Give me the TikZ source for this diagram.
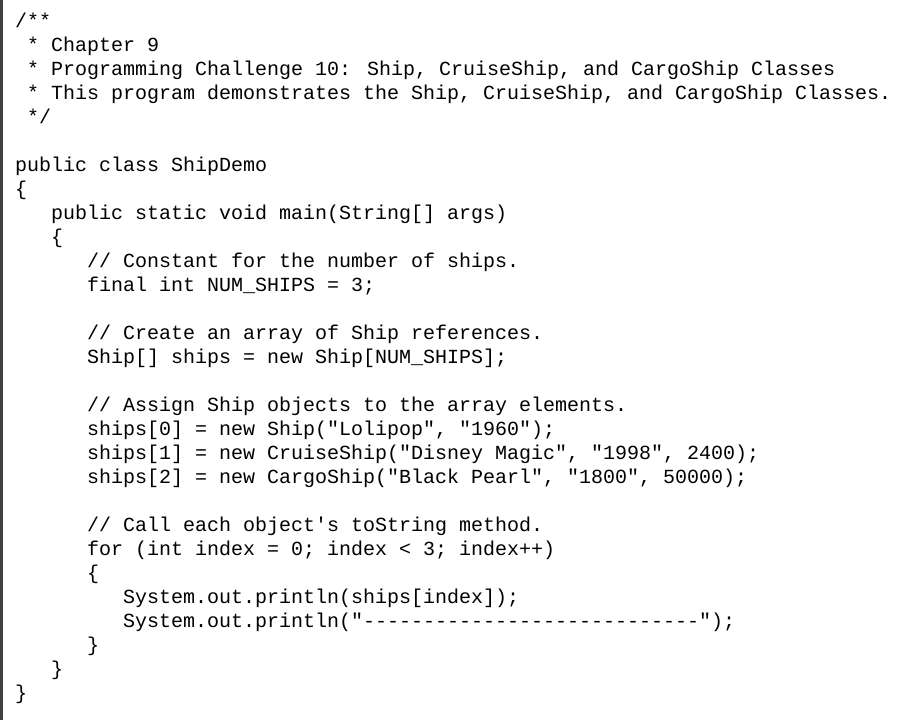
\documentclass[tikz,border=0pt]{standalone}
\usepackage{fontspec}
\newfontfamily\code{Liberation Mono}
\tikzset{ln/.style={anchor=base west,inner sep=0pt,font=\code\fontsize{20pt}{24pt}\selectfont}}
\newcommand{\cl}[4]{\node[ln] (#1) at ({15pt+12pt*#2},{720pt-28pt-24pt*#3}) {#4};}
\begin{document}
\begin{tikzpicture}[x=1pt,y=1pt]
\fill[white] (0,0) rectangle (906,720);
\useasboundingbox (0,0) rectangle (906,720);
\fill[black!75] (0,0) rectangle (2.5,720);
\cl{l0}{0}{0}{/**}
\cl{l1}{1}{0.97}{* Chapter 9}
\cl{l2}{1}{1.97}{* Programming Challenge 10: Ship, CruiseShip, and CargoShip Classes}
\cl{l3}{1}{2.97}{* This program demonstrates the Ship, CruiseShip, and CargoShip Classes.}
\cl{l4}{1}{3.97}{*/}
\cl{l6}{0}{5.97}{public class ShipDemo}
\cl{l7}{0}{6.97}{\{}
\cl{l8}{3}{7.97}{public static void main(String[] args)}
\cl{l9}{3}{8.97}{\{}
\cl{l10}{6}{9.97}{// Constant for the number of ships.}
\cl{l11}{6}{10.97}{final int NUM\_SHIPS = 3;}
\cl{l13}{6}{12.97}{// Create an array of Ship references.}
\cl{l14}{6}{13.97}{Ship[] ships = new Ship[NUM\_SHIPS];}
\cl{l16}{6}{15.97}{// Assign Ship objects to the array elements.}
\cl{l17}{6}{16.97}{ships[0] = new Ship("Lolipop", "1960");}
\cl{l18}{6}{17.97}{ships[1] = new CruiseShip("Disney Magic", "1998", 2400);}
\cl{l19}{6}{18.97}{ships[2] = new CargoShip("Black Pearl", "1800", 50000);}
\cl{l21}{6}{20.97}{// Call each object's toString method.}
\cl{l22}{6}{21.97}{for (int index = 0; index < 3; index++)}
\cl{l23}{6}{22.97}{\{}
\cl{l24}{9}{23.97}{System.out.println(ships[index]);}
\cl{l25}{9}{24.97}{System.out.println("----------------------------");}
\cl{l26}{6}{25.97}{\}}
\cl{l27}{3}{26.97}{\}}
\cl{l28}{0}{27.97}{\}}
\end{tikzpicture}
\end{document}
